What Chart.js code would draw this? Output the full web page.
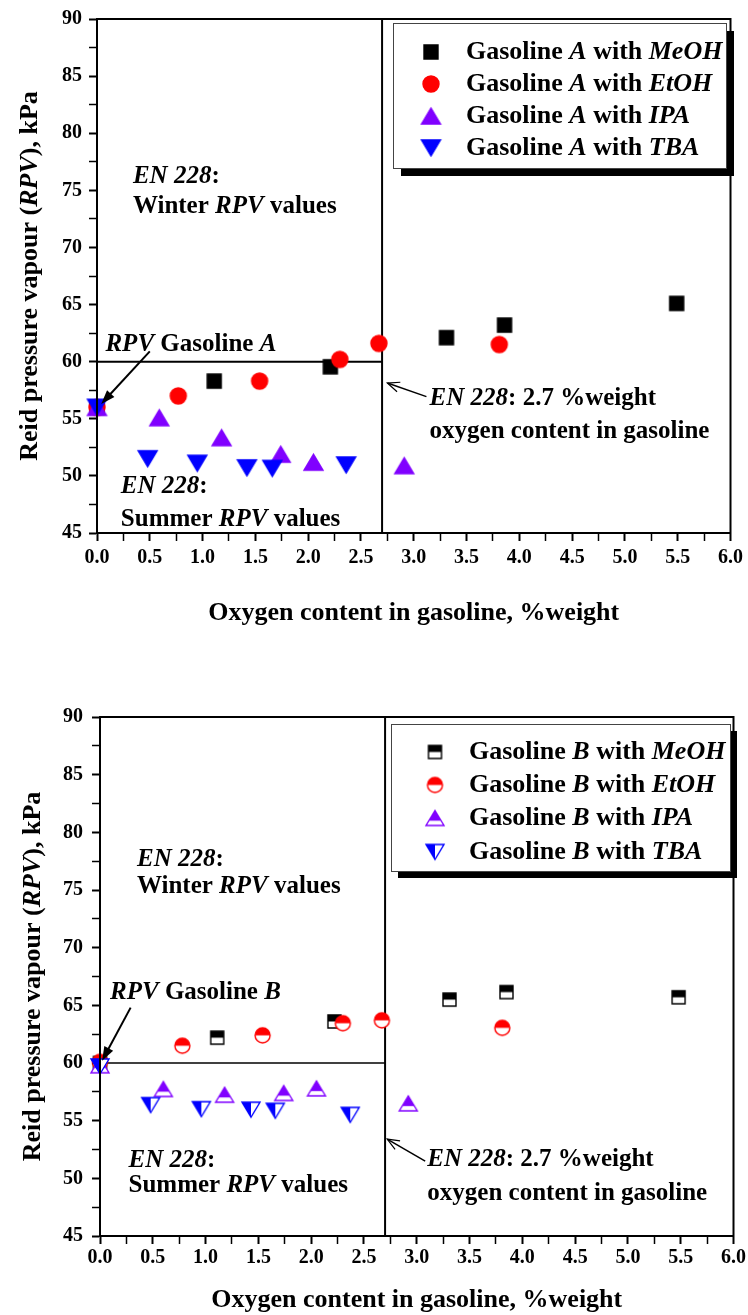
<!DOCTYPE html>
<html>
<head>
<meta charset="utf-8">
<script src="https://cdn.jsdelivr.net/npm/chart.js@4.4.1/dist/chart.umd.min.js"></script>
<style>
  html, body { margin: 0; padding: 0; background: #fff; }
  body { width: 748px; height: 1315px; position: relative; overflow: hidden; }
  .panel { position: absolute; left: 0; width: 748px; }
  #panelA { top: 0; height: 650px; }
  #panelB { top: 650px; height: 665px; }
</style>
</head>
<body>
<div class="panel" id="panelA"><canvas id="chartA"></canvas></div>
<div class="panel" id="panelB"><canvas id="chartB"></canvas></div>
<script>
// oxygen content (%weight) and RPV (kPa), gasoline A
const oxyMeOH_A = [0, 1.11, 2.21, 3.31, 3.86, 5.49];
const rpvMeOH_A = [56.0, 58.3, 59.55, 62.1, 63.2, 65.1];
const oxyEtOH_A = [0, 0.77, 1.54, 2.30, 2.67, 3.81];
const rpvEtOH_A = [56.0, 57.0, 58.3, 60.2, 61.6, 61.5];
const oxyIPA_A = [0, 0.59, 1.18, 1.74, 2.05, 2.91];
const rpvIPA_A = [56.0, 55.1, 53.35, 51.9, 51.2, 50.9];
const oxyTBA_A = [0, 0.48, 0.95, 1.42, 1.66, 2.36];
const rpvTBA_A = [56.0, 51.5, 51.1, 50.7, 50.65, 50.95];

// gasoline B
const oxyMeOH_B = [0, 1.11, 2.22, 3.31, 3.85, 5.48];
const rpvMeOH_B = [60.0, 62.2, 63.6, 65.5, 66.15, 65.7];
const oxyEtOH_B = [0, 0.78, 1.54, 2.30, 2.67, 3.81];
const rpvEtOH_B = [60.1, 61.5, 62.4, 63.45, 63.7, 63.05];
const oxyIPA_B = [0, 0.60, 1.18, 1.74, 2.05, 2.92];
const rpvIPA_B = [59.8, 57.75, 57.25, 57.4, 57.8, 56.5];
const oxyTBA_B = [0, 0.48, 0.96, 1.43, 1.66, 2.37];
const rpvTBA_B = [59.7, 56.35, 56.0, 55.95, 55.85, 55.5];

const alcohols = ["MeOH", "EtOH", "IPA", "TBA"];
const xTickLabels = ["0.0", "0.5", "1.0", "1.5", "2.0", "2.5", "3.0", "3.5", "4.0", "4.5", "5.0", "5.5", "6.0"];
const yTickLabels = ["45", "50", "55", "60", "65", "70", "75", "80", "85", "90"];

// EN 228 limits
const limitOxygen = 2.7;
const limitSummerRPV = 60;

const FONT = '"Liberation Serif", "Times New Roman", serif';
const colors = ["#000000", "#ff0000", "#8000ff", "#0000ff"];

function setFont(ctx, size, italic) {
  ctx.font = (italic ? "italic " : "") + "bold " + size + "px " + FONT;
}

function drawRuns(ctx, runs, x, y, size, align) {
  let total = 0;
  runs.forEach(r => { setFont(ctx, size, r[1]); total += ctx.measureText(r[0]).width; });
  let cx = align === "center" ? x - total / 2 : x;
  ctx.textBaseline = "middle";
  ctx.textAlign = "left";
  ctx.fillStyle = "#000";
  runs.forEach(r => {
    setFont(ctx, size, r[1]);
    ctx.fillText(r[0], cx, y);
    cx += ctx.measureText(r[0]).width;
  });
}

function shapePath(g, shape, cx, cy, w, h) {
  g.beginPath();
  if (shape === "square") {
    g.rect(cx - w / 2, cy - h / 2, w, h);
  } else if (shape === "circle") {
    g.arc(cx, cy, w / 2, 0, Math.PI * 2);
  } else if (shape === "up") {
    g.moveTo(cx, cy - h / 2);
    g.lineTo(cx + w / 2, cy + h / 2);
    g.lineTo(cx - w / 2, cy + h / 2);
    g.closePath();
  } else {
    g.moveTo(cx - w / 2, cy - h / 2);
    g.lineTo(cx + w / 2, cy - h / 2);
    g.lineTo(cx, cy + h / 2);
    g.closePath();
  }
}

// marker images; fill: "full", "top" or "left"
function marker(shape, color, fill, w, h) {
  const c = document.createElement("canvas");
  c.width = Math.ceil(w + 4);
  c.height = Math.ceil(h + 4);
  const g = c.getContext("2d");
  const cx = c.width / 2, cy = c.height / 2;
  g.lineWidth = 1.4;
  g.strokeStyle = color;
  shapePath(g, shape, cx, cy, w, h);
  if (fill === "full") {
    g.fillStyle = color;
    g.fill();
    g.stroke();
    return c;
  }
  g.fillStyle = "#fff";
  g.fill();
  g.save();
  g.clip();
  g.fillStyle = color;
  if (fill === "left") {
    g.fillRect(0, 0, cx, c.height);
  } else {
    const frac = shape === "up" ? 0.68 : 0.5;
    g.fillRect(0, 0, c.width, cy - h / 2 + h * frac);
  }
  g.restore();
  shapePath(g, shape, cx, cy, w, h);
  g.stroke();
  return c;
}

const markersA = [
  marker("square", colors[0], "full", 14, 14),
  marker("circle", colors[1], "full", 16, 16),
  marker("up", colors[2], "full", 19, 16),
  marker("down", colors[3], "full", 19, 16)
];
const markersB = [
  marker("square", colors[0], "top", 13, 13),
  marker("circle", colors[1], "top", 15, 15),
  marker("up", colors[2], "top", 18, 15),
  marker("down", colors[3], "left", 18, 15)
];

function pts(xs, ys) {
  return xs.map((v, i) => ({ x: v, y: ys[i] }));
}

function buildDatasets(xsList, ysList, markers, lineW) {
  const sets = xsList.map((xs, i) => ({
    label: alcohols[i],
    data: pts(xs, ysList[i]),
    pointStyle: markers[i],
    pointRadius: 8,
    pointHoverRadius: 8,
    showLine: false,
    clip: false,
    order: 4 - i
  }));
  sets.push({
    label: "summer",
    data: [{ x: 0, y: limitSummerRPV }, { x: limitOxygen, y: limitSummerRPV }],
    showLine: true,
    borderColor: "#000",
    borderWidth: lineW,
    pointRadius: 0,
    order: 10
  });
  sets.push({
    label: "oxygen",
    data: [{ x: limitOxygen, y: 45 }, { x: limitOxygen, y: 90 }],
    showLine: true,
    borderColor: "#000",
    borderWidth: 2,
    pointRadius: 0,
    order: 10
  });
  return sets;
}

function drawArrow(ctx, x1, y1, x2, y2, w, filled) {
  const ang = Math.atan2(y2 - y1, x2 - x1);
  const L = filled ? 14 : 12, H = filled ? 5 : 5;
  const c = Math.cos(ang), s = Math.sin(ang);
  ctx.save();
  ctx.strokeStyle = "#000";
  ctx.fillStyle = "#000";
  ctx.lineWidth = w;
  ctx.beginPath();
  ctx.moveTo(x1, y1);
  ctx.lineTo(filled ? x2 - c * L * 0.7 : x2, filled ? y2 - s * L * 0.7 : y2);
  ctx.stroke();
  ctx.beginPath();
  ctx.moveTo(x2 - L * c + H * s, y2 - L * s - H * c);
  ctx.lineTo(x2, y2);
  ctx.lineTo(x2 - L * c - H * s, y2 - L * s + H * c);
  if (filled) { ctx.closePath(); ctx.fill(); } else { ctx.lineWidth = 1.2; ctx.stroke(); }
  ctx.restore();
}

function decor(cfg) {
  return {
    id: "decor",
    afterDraw(chart) {
      const ctx = chart.ctx;
      const a = chart.chartArea;
      const xs = chart.scales.x, ys = chart.scales.y;
      ctx.save();
      ctx.strokeStyle = "#000";
      ctx.lineWidth = 2;
      ctx.strokeRect(a.left, a.top, a.right - a.left, a.bottom - a.top);

      cfg.notes.forEach(n => {
        drawRuns(ctx, n.runs, xs.getPixelForValue(n.x), ys.getPixelForValue(n.y), 25, "left");
      });
      cfg.arrows.forEach(ar => {
        drawArrow(ctx, xs.getPixelForValue(ar.from[0]), ys.getPixelForValue(ar.from[1]),
          xs.getPixelForValue(ar.to[0]), ys.getPixelForValue(ar.to[1]), ar.w, ar.filled);
      });

      // axis titles
      drawRuns(ctx, [["Oxygen content in gasoline, %weight", false]], (a.left + a.right) / 2, cfg.xTitleY, 26, "center");
      ctx.save();
      ctx.translate(cfg.yTitleX, (a.top + a.bottom) / 2);
      ctx.rotate(-Math.PI / 2);
      drawRuns(ctx, [["Reid pressure vapour (", false], ["RPV", true], ["), kPa", false]], 0, 0, 26, "center");
      ctx.restore();

      // legend box with drop shadow
      const b = cfg.legend.box, sh = cfg.legend.shadow;
      ctx.fillStyle = "#000";
      ctx.fillRect(b[0] + sh, b[1] + sh, b[2], b[3]);
      ctx.fillStyle = "#fff";
      ctx.fillRect(b[0], b[1], b[2], b[3]);
      ctx.strokeStyle = "#444";
      ctx.lineWidth = 1;
      ctx.strokeRect(b[0] + 0.5, b[1] + 0.5, b[2], b[3]);
      chart.data.datasets.slice(0, 4).forEach((ds, i) => {
        const img = ds.pointStyle;
        const ry = cfg.legend.rows[i];
        ctx.drawImage(img, cfg.legend.markerX - img.width / 2, ry - img.height / 2);
        drawRuns(ctx, [["Gasoline ", false], [cfg.fuel, true], [" with ", false], [ds.label, true]],
          cfg.legend.textX, ry, 26, "left");
      });
      ctx.restore();
    }
  };
}

function makeChart(id, datasets, layout, cfg) {
  const tickFont = { family: FONT, weight: "bold", size: 20 };
  return new Chart(document.getElementById(id), {
    type: "scatter",
    data: { datasets: datasets },
    options: {
      responsive: true,
      maintainAspectRatio: false,
      animation: false,
      layout: { padding: layout.padding },
      plugins: { legend: { display: false }, tooltip: { enabled: false } },
      scales: {
        x: {
          type: "linear",
          min: 0,
          max: 6,
          afterFit: s => { s.height = layout.xAxisHeight; },
          border: { display: true, color: "#000", width: 2 },
          grid: { display: true, drawOnChartArea: false, drawTicks: true, tickLength: 8,
            tickColor: "#000", tickWidth: c => (c.index % 2 === 0 ? 2 : 1.5) },
          ticks: {
            stepSize: 0.25, autoSkip: false, maxRotation: 0, minRotation: 0,
            padding: layout.xPad, color: "#000", font: tickFont,
            callback: (v, i) => (i % 2 === 0 ? xTickLabels[i / 2] : "")
          }
        },
        y: {
          type: "linear",
          min: 45,
          max: 90,
          afterFit: s => { s.width = layout.yAxisWidth; },
          border: { display: true, color: "#000", width: 2 },
          grid: { display: true, drawOnChartArea: false, drawTicks: true, tickLength: 8,
            tickColor: "#000", tickWidth: c => (c.index % 2 === 0 ? 2 : 1.5) },
          ticks: {
            stepSize: 2.5, autoSkip: false, padding: layout.yPad, color: "#000", font: tickFont,
            callback: (v, i) => (i % 2 === 0 ? yTickLabels[i / 2] : "")
          }
        }
      }
    },
    plugins: [decor(cfg)]
  });
}

const en = [["EN 228", true], [":", false]];

makeChart("chartA",
  buildDatasets([oxyMeOH_A, oxyEtOH_A, oxyIPA_A, oxyTBA_A], [rpvMeOH_A, rpvEtOH_A, rpvIPA_A, rpvTBA_A], markersA, 2),
  { padding: { top: 16, right: 14, bottom: 0, left: 0 }, xAxisHeight: 117, yAxisWidth: 97, xPad: 5, yPad: 7 },
  {
    fuel: "A",
    xTitleY: 613,
    yTitleX: 30,
    notes: [
      { x: 0.34, y: 76.2, runs: en },
      { x: 0.34, y: 73.6, runs: [["Winter ", false], ["RPV", true], [" values", false]] },
      { x: 0.08, y: 61.5, runs: [["RPV", true], [" Gasoline ", false], ["A", true]] },
      { x: 3.15, y: 56.75, runs: [["EN 228", true], [": 2.7 %weight", false]] },
      { x: 3.15, y: 53.9, runs: [["oxygen content in gasoline", false]] },
      { x: 0.226, y: 49.06, runs: en },
      { x: 0.226, y: 46.2, runs: [["Summer ", false], ["RPV", true], [" values", false]] }
    ],
    arrows: [
      { from: [0.50, 60.9], to: [0.04, 56.3], w: 2, filled: true },
      { from: [3.12, 56.94], to: [2.75, 58.13], w: 1.5, filled: false }
    ],
    legend: { box: [393, 23, 333, 145], shadow: 8, markerX: 431, textX: 466, rows: [52, 84, 116, 148] }
  });

makeChart("chartB",
  buildDatasets([oxyMeOH_B, oxyEtOH_B, oxyIPA_B, oxyTBA_B], [rpvMeOH_B, rpvEtOH_B, rpvIPA_B, rpvTBA_B], markersB, 1.5),
  { padding: { top: 67, right: 14, bottom: 0, left: 0 }, xAxisHeight: 79, yAxisWidth: 100, xPad: 2, yPad: 9 },
  {
    fuel: "B",
    xTitleY: 650,
    yTitleX: 33,
    notes: [
      { x: 0.35, y: 77.6, runs: en },
      { x: 0.35, y: 75.3, runs: [["Winter ", false], ["RPV", true], [" values", false]] },
      { x: 0.095, y: 66.15, runs: [["RPV", true], [" Gasoline ", false], ["B", true]] },
      { x: 3.1, y: 51.6, runs: [["EN 228", true], [": 2.7 %weight", false]] },
      { x: 3.1, y: 48.7, runs: [["oxygen content in gasoline", false]] },
      { x: 0.27, y: 51.55, runs: en },
      { x: 0.27, y: 49.4, runs: [["Summer ", false], ["RPV", true], [" values", false]] }
    ],
    arrows: [
      { from: [0.29, 64.8], to: [0.02, 60.2], w: 2, filled: true },
      { from: [3.08, 51.5], to: [2.72, 53.4], w: 1.5, filled: false }
    ],
    legend: { box: [391, 74, 339, 147], shadow: 7, markerX: 435, textX: 469, rows: [102, 135, 168, 202] }
  });
</script>
</body>
</html>
